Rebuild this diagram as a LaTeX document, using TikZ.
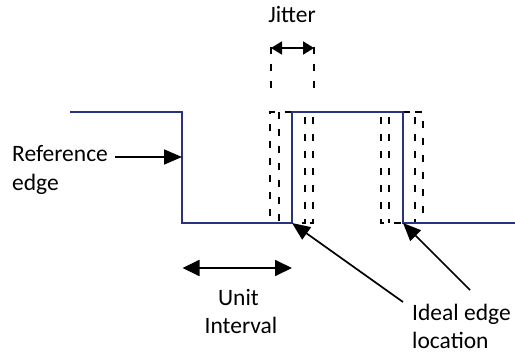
\documentclass[tikz,border=0pt]{standalone}
\usepackage{fontspec}
\setmainfont{Carlito}
\usetikzlibrary{arrows.meta}
\definecolor{sig}{RGB}{40,50,128}
\tikzset{
  sigline/.style={draw=sig,line width=2.5pt},
  jit/.style={draw=black,line width=2pt,dash pattern=on 7pt off 10pt},
  bigarrow/.style={draw=black,line width=1.7pt,-{Triangle[length=18pt,width=15pt]}},
  bigdarrow/.style={draw=black,line width=1.8pt,{Triangle[length=17pt,width=16pt]}-{Triangle[length=17pt,width=16pt]}},
  smalldarrow/.style={draw=black,line width=1.8pt,{Triangle[length=11pt,width=13pt]}-{Triangle[length=11pt,width=13pt]}},
  lbl/.style={inner sep=0pt,font=\fontsize{23.5}{28}\selectfont},
}
\begin{document}
\begin{tikzpicture}[x=1pt,y=-1pt]
\useasboundingbox (0,0) rectangle (515,353);
% jitter markers
\draw[jit] (271,47) -- (271,90);
\draw[jit] (314,47) -- (314,90);
\draw[smalldarrow] (271,48) -- (314,48);
\node[lbl,anchor=base] (jitter) at (292,23) {Jitter};
% dashed jittered edges (rising)
\draw[jit] (292,112) -- (270,112) -- (270,222);
\draw[jit] (279,112) -- (279,222);
\draw[jit] (305,117) -- (305,223) -- (292,223);
\draw[jit] (313,117) -- (313,223) -- (305,223);
% dashed jittered edges (falling)
\draw[jit] (381,117) -- (381,223) -- (403,223);
\draw[jit] (389,117) -- (389,223);
\draw[jit] (403,112) -- (415,112) -- (415,222);
\draw[jit] (415,112) -- (423,112) -- (423,222);
% signal
\coordinate (s0) at (70,112);
\coordinate (r1) at (182,112);
\coordinate (r2) at (182,223);
\coordinate (e1) at (292,223);
\coordinate (e2) at (292,112);
\coordinate (f1) at (403,112);
\coordinate (f2) at (403,223);
\coordinate (s9) at (515,223);
\draw[sigline] (s0) -- (r1) -- (r2) -- (e1) -- (e2) -- (f1) -- (f2) -- (s9);
% reference edge
\node[lbl,anchor=base west] (ref) at (12,161.7) {Reference};
\node[lbl,anchor=base west] (refedge) at (12,190) {edge};
\coordinate (refstart) at (115,157);
\coordinate (refend) at (182,157);
\draw[bigarrow] (refstart) -- (refend);
% unit interval
\coordinate (uia) at (182.5,268);
\coordinate (uib) at (292,268);
\draw[bigdarrow] (uia) -- (uib);
\node[lbl,anchor=base] (unit) at (238.5,305) {Unit};
\node[lbl,anchor=base] (interval) at (241,333) {Interval};
% ideal edge location
\node[lbl,anchor=base west] (ideal) at (412,320) {Ideal edge};
\node[lbl,anchor=base west] (location) at (412,348) {location};
\coordinate (ia) at (403,302);
\coordinate (ib) at (470,290);
\draw[bigarrow] (ia) -- (e1);
\draw[bigarrow] (ib) -- (f2);
\end{tikzpicture}
\end{document}
